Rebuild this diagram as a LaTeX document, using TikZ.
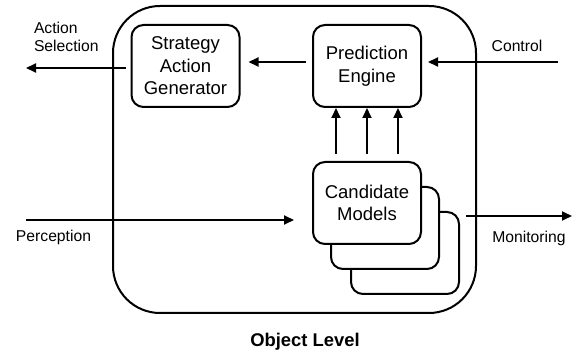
\documentclass[tikz,border=0pt]{standalone}
\usepackage{fontspec}
\setmainfont{Liberation Sans}
\usetikzlibrary{arrows.meta}

\tikzset{
	box/.style={draw, rounded corners=6pt, fill=white, minimum width=54pt, minimum height=41pt, inner sep=0pt, align=center, font=\fontsize{9.25}{11.25}\selectfont},
	objbox/.style={draw, rounded corners=23.5pt, minimum width=181.5pt, minimum height=153.5pt, inner sep=0pt},
	lbl/.style={inner sep=0pt, font=\fontsize{7.85}{9}\selectfont}
}

\begin{document}
\begin{tikzpicture}[x=0.5pt, y=-0.5pt, line width=1pt, >={Triangle[length=5pt,width=4.5pt]}]
		\useasboundingbox (0, 0) rectangle (574, 353);

		\node[objbox] (obj) at (294.5, 159.5) {};

		\node[box] (sag) at (185.5, 66) {Strategy\\Action\\Generator};
		\node[box] (pe) at (367, 66) {Prediction\\Engine};

		\node[box] (cm3) at (405, 253) {};
		\node[box] (cm2) at (385, 228) {};
		\node[box] (cm1) at (367, 203) {Candidate\\Models};

		\coordinate (asel) at (26, 68);
		\coordinate (ctrl) at (558, 62);
		\coordinate (perc) at (26, 220);
		\coordinate (mon) at (572, 216);

		\draw[->, shorten <=3pt, shorten >=4pt] ([yshift=2pt]pe.west) -- ([yshift=2pt]pe.west -| sag.east);
		\draw[->, shorten <=2.5pt] ([yshift=-1pt]sag.west) -- (asel);
		\draw[->, shorten >=3pt] (ctrl) -- (ctrl -| pe.east);

		\foreach \dx in {-15.5, 0, 15.5}
			\draw[->, shorten <=3.5pt] ([xshift=\dx pt]cm1.north) -- ([xshift=\dx pt]pe.south);

		\draw[->, shorten >=9pt] (perc) -- (perc -| cm1.west);
		\draw[->, shorten <=3pt] (mon -| cm3.east) -- (mon);

		\node[lbl, anchor=west, align=left] (lsel) at (33, 37) {Action\\Selection};
		\node[lbl] (lctrl) at (517, 46) {Control};
		\node[lbl] (lperc) at (53.5, 237) {Perception};
		\node[lbl] (lmon) at (529, 238) {Monitoring};
		\node[inner sep=0pt, font=\fontsize{9.2}{11}\selectfont\bfseries] (lobj) at (305, 342) {Object Level};

\end{tikzpicture}
\end{document}
